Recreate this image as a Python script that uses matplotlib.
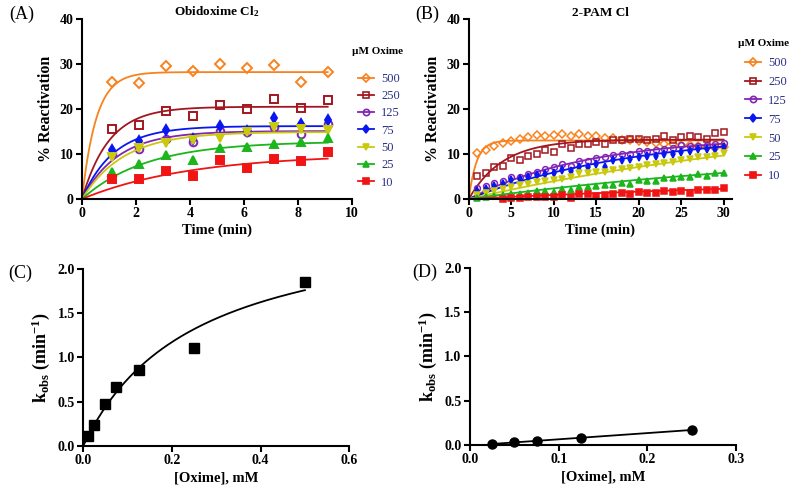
import numpy as np
import matplotlib
matplotlib.use("Agg")
import matplotlib.pyplot as plt
from matplotlib.lines import Line2D

plt.rcParams['font.family'] = ['Liberation Serif', 'DejaVu Serif']
plt.rcParams['mathtext.fontset'] = 'custom'
plt.rcParams['mathtext.rm'] = 'Liberation Serif'
plt.rcParams['mathtext.bf'] = 'Liberation Serif:bold'
plt.rcParams['mathtext.default'] = 'bf'

# ---- data ----
oxime_labels = ["500", "250", "125", "75", "50", "25", "10"]
colors = ["#f7821e", "#a3161f", "#8424b4", "#0a16f0", "#c9c90e", "#1cb51c", "#f01414"]
markers = ["D", "s", "o", "d", "v", "^", "s"]
filled = [False, False, False, True, True, True, True]

# panel A: obidoxime
time_a = [1.1, 2.1, 3.1, 4.1, 5.1, 6.1, 7.1, 8.1, 9.1]
react_a = [
    [25.9, 25.7, 29.6, 28.5, 29.9, 29.0, 29.7, 25.9, 28.2],   # 500
    [15.6, 16.5, 19.5, 18.5, 20.9, 20.0, 22.2, 20.3, 21.9],   # 250
    [9.9, 11.0, 13.4, 12.7, 15.0, 14.8, 16.1, 14.4, 16.7],    # 125
    [10.9, 12.9, 15.3, 13.3, 16.2, 15.0, 17.9, 16.6, 17.6],   # 75
    [9.4, 11.3, 12.5, 13.0, 13.6, 14.8, 15.9, 15.5, 15.4],    # 50
    [5.9, 7.7, 9.8, 8.7, 11.3, 11.5, 12.2, 12.7, 13.6],       # 25
    [4.4, 4.4, 6.2, 5.0, 8.7, 6.8, 8.8, 8.5, 10.4],           # 10
]
plateau_a = [28.2, 20.5, 15.1, 16.2, 14.9, 12.8, 10.0]
rate_a = [1.9, 1.0, 0.75, 0.85, 0.65, 0.42, 0.25]

# panel B: 2-PAM
time_b = list(range(1, 31))
react_b = [
    [10.2, 10.8, 11.8, 12.5, 12.9, 13.4, 13.7, 14.2, 14.1, 14.3, 14.4, 14.1, 14.5, 14.0, 14.0,
     13.5, 13.6, 13.2, 13.0, 12.8, 12.6, 12.5, 12.3, 12.2, 12.0, 11.9, 11.8, 11.6, 11.3, 11.5],
    [5.0, 5.7, 7.0, 7.3, 9.0, 8.7, 9.6, 10.1, 10.9, 10.4, 12.2, 11.4, 12.2, 12.2, 12.6,
     12.3, 13.0, 13.0, 13.3, 13.3, 13.2, 13.4, 13.9, 13.2, 13.8, 13.9, 13.8, 13.4, 14.7, 14.8],
    [2.5, 2.9, 3.5, 3.9, 4.9, 4.8, 5.6, 6.1, 6.6, 7.1, 7.8, 7.4, 8.5, 8.5, 9.0,
     9.3, 9.8, 9.9, 9.9, 10.6, 10.6, 10.8, 11.2, 11.3, 11.9, 11.8, 11.8, 12.0, 12.2, 12.4],
    [1.8, 2.3, 2.8, 3.4, 4.2, 4.4, 4.8, 5.3, 5.5, 5.8, 6.5, 6.2, 7.2, 7.2, 7.8,
     7.2, 8.6, 8.7, 8.8, 9.3, 9.5, 9.5, 10.1, 10.0, 10.5, 10.6, 11.0, 11.1, 11.2, 11.6],
    [0.9, 1.3, 1.8, 2.2, 2.7, 3.0, 3.3, 3.7, 4.0, 4.3, 4.5, 4.9, 5.8, 5.7, 5.9,
     6.1, 6.4, 6.6, 6.9, 7.2, 7.5, 7.7, 8.0, 8.2, 8.7, 8.8, 9.3, 9.4, 9.5, 10.3],
    [0.2, 0.5, 0.7, 0.9, 1.1, 1.2, 1.4, 1.7, 1.8, 1.6, 2.2, 1.9, 2.6, 2.7, 2.8,
     3.1, 3.2, 3.6, 3.4, 4.2, 4.0, 3.9, 4.7, 4.6, 4.8, 4.9, 5.6, 5.0, 5.8, 5.8],
    [None, None, None, 0.1, 0.3, 0.3, 0.4, 0.5, 0.5, 0.4, 0.8, 0.3, 1.1, 1.0, 0.6,
     0.9, 1.0, 1.3, 1.0, 1.6, 1.3, 1.4, 1.8, 1.6, 1.8, 1.4, 2.1, 1.9, 2.0, 2.5],
]
plateau_b = [13.0, 13.2, 14.0, 15.0, 20.0, 12.0, 5.0]
rate_b = [1.1, 0.25, 0.07, 0.05, 0.022, 0.022, 0.02]

# panel C / D: kobs vs oxime
oxime_c = [0.01, 0.025, 0.05, 0.075, 0.125, 0.25, 0.5]
kobs_c = [0.11, 0.24, 0.48, 0.67, 0.86, 1.11, 1.85]
kmax_c, kd_c = 2.64, 0.25
oxime_d = [0.025, 0.05, 0.075, 0.125, 0.25]
kobs_d = [0.01, 0.03, 0.05, 0.08, 0.17]

LEGEND_COLOR = "#2b2f87"


def style_axes(ax):
    for s in ["top", "right"]:
        ax.spines[s].set_visible(False)
    for s in ["left", "bottom"]:
        ax.spines[s].set_linewidth(1.5)
    ax.tick_params(width=1.5, length=4, direction="out", labelsize=10, pad=2)
    for lab in ax.get_xticklabels() + ax.get_yticklabels():
        lab.set_fontweight("bold")


def draw_kinetics(ax, t, data, plateau, rate, tmax, msize, mew):
    tt = np.linspace(0, tmax, 300)
    for i in range(len(data)):
        ax.plot(tt, plateau[i] * (1 - np.exp(-rate[i] * tt)), color=colors[i], lw=1.3)
        y = np.array([np.nan if v is None else v for v in data[i]], dtype=float)
        ax.plot(t, y, linestyle="none", marker=markers[i], color=colors[i],
                markersize=msize, markeredgewidth=mew,
                markerfacecolor=colors[i] if filled[i] else "none", clip_on=False)


def add_legend(ax, title_xy, anchor, spacing):
    fig.text(title_xy[0] / 800, 1 - title_xy[1] / 496, "\u00b5M Oxime", fontsize=8,
             fontweight="bold", va="center", ha="left")
    handles = []
    for i in range(len(oxime_labels)):
        handles.append(Line2D([], [], color=colors[i], lw=1.3, marker=markers[i], markersize=4.5,
                              markeredgewidth=1.2,
                              markerfacecolor=colors[i] if filled[i] else "none"))
    leg = ax.legend(handles, oxime_labels, loc="upper left",
                    bbox_to_anchor=(anchor[0] / 800, 1 - anchor[1] / 496),
                    bbox_transform=fig.transFigure, frameon=False, fontsize=9,
                    handlelength=1.3, handletextpad=0.55,
                    labelspacing=spacing, borderpad=0, borderaxespad=0)
    for txt in leg.get_texts():
        txt.set_color(LEGEND_COLOR)


fig = plt.figure(figsize=(8, 4.96), dpi=100)

# (A)
ax_a = fig.add_axes([0.1025, 0.5988, 0.3375, 0.3629])
draw_kinetics(ax_a, time_a, react_a, plateau_a, rate_a, 9.1, 5.5, 1.4)
ax_a.set_xlim(0, 10)
ax_a.set_ylim(0, 40)
ax_a.set_xticks([0, 2, 4, 6, 8, 10])
ax_a.set_yticks([0, 10, 20, 30, 40])
ax_a.set_xlabel("Time (min)", fontsize=10.5, fontweight="bold", labelpad=2)
ax_a.set_ylabel("% Reactivation", fontsize=11.5, fontweight="bold", labelpad=4)
ax_a.set_title("Obidoxime Cl$_2$", fontsize=9.5, fontweight="bold", pad=2)
style_axes(ax_a)
add_legend(ax_a, (352, 51), (358, 73), 0.42)

# (B)
ax_b = fig.add_axes([0.586, 0.5988, 0.329, 0.3629])
draw_kinetics(ax_b, time_b, react_b, plateau_b, rate_b, 30, 4.2, 1.1)
ax_b.set_xlim(0, 31)
ax_b.set_ylim(0, 40)
ax_b.set_xticks([0, 5, 10, 15, 20, 25, 30])
ax_b.set_yticks([0, 10, 20, 30, 40])
ax_b.set_xlabel("Time (min)", fontsize=10.5, fontweight="bold", labelpad=2)
ax_b.set_ylabel("% Reactivation", fontsize=11.5, fontweight="bold", labelpad=4)
ax_b.set_title("2-PAM Cl", fontsize=9.5, fontweight="bold", pad=2)
style_axes(ax_b)
add_legend(ax_b, (738, 44), (745, 57), 0.55)

# (C)
ax_c = fig.add_axes([0.104, 0.1008, 0.3325, 0.357])
xx = np.linspace(0, max(oxime_c), 300)
ax_c.plot(xx, kmax_c * xx / (kd_c + xx), color="black", lw=1.3)
ax_c.plot(oxime_c, kobs_c, linestyle="none", marker="s", color="black", markersize=6.5,
          clip_on=False)
ax_c.set_xlim(0, 0.6)
ax_c.set_ylim(0, 2.0)
ax_c.set_xticks([0.0, 0.2, 0.4, 0.6])
ax_c.set_yticks([0.0, 0.5, 1.0, 1.5, 2.0])
ax_c.xaxis.set_major_formatter(plt.FormatStrFormatter("%.1f"))
ax_c.yaxis.set_major_formatter(plt.FormatStrFormatter("%.1f"))
ax_c.set_xlabel("[Oxime], mM", fontsize=10.5, fontweight="bold", labelpad=3)
ax_c.set_ylabel("k$_{obs}$ (min$^{-1}$)", fontsize=13, fontweight="bold", labelpad=4)
style_axes(ax_c)

# (D)
ax_d = fig.add_axes([0.5875, 0.1028, 0.3325, 0.357])
slope, icpt = np.polyfit(oxime_d, kobs_d, 1)
xd = np.array([min(oxime_d), max(oxime_d)])
ax_d.plot(xd, slope * xd + icpt, color="black", lw=1.3)
ax_d.plot(oxime_d, kobs_d, linestyle="none", marker="o", color="black", markersize=6.5,
          clip_on=False)
ax_d.set_xlim(0, 0.3)
ax_d.set_ylim(0, 2.0)
ax_d.set_xticks([0.0, 0.1, 0.2, 0.3])
ax_d.set_yticks([0.0, 0.5, 1.0, 1.5, 2.0])
ax_d.xaxis.set_major_formatter(plt.FormatStrFormatter("%.1f"))
ax_d.yaxis.set_major_formatter(plt.FormatStrFormatter("%.1f"))
ax_d.set_xlabel("[Oxime], mM", fontsize=10.5, fontweight="bold", labelpad=3)
ax_d.set_ylabel("k$_{obs}$ (min$^{-1}$)", fontsize=13, fontweight="bold", labelpad=4)
style_axes(ax_d)

# panel letters
fig.text(0.012, 0.972, "(A)", fontsize=13, va="center")
fig.text(0.519, 0.972, "(B)", fontsize=13, va="center")
fig.text(0.010, 0.449, "(C)", fontsize=13, va="center")
fig.text(0.515, 0.451, "(D)", fontsize=13, va="center")

fig.savefig("out.png", dpi=100)
